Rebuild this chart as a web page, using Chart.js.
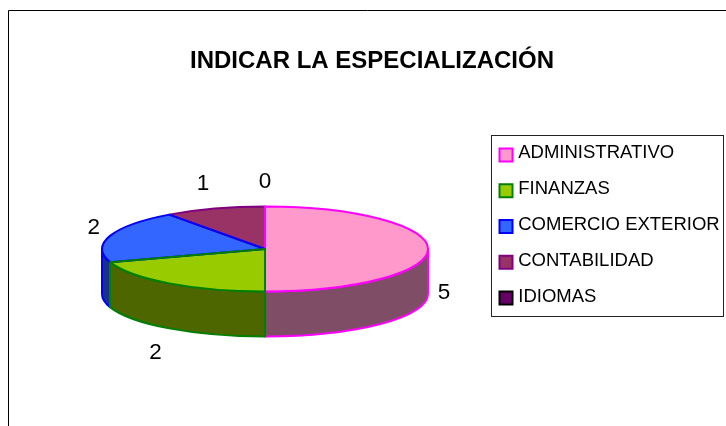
<!DOCTYPE html>
<html>
<head>
<meta charset="utf-8">
<style>
  html, body { margin: 0; padding: 0; background: #fff; }
  canvas { display: block; }
</style>
<script src="https://cdn.jsdelivr.net/npm/chart.js@4"></script>
</head>
<body>
<canvas id="chart" width="726" height="426"></canvas>
<script>
const titleText = "INDICAR LA ESPECIALIZACIÓN";
const categories = ["ADMINISTRATIVO", "FINANZAS", "COMERCIO EXTERIOR", "CONTABILIDAD", "IDIOMAS"];
const counts = [5, 2, 2, 1, 0];
const topColors = ["#ff99cc", "#99cc00", "#3366ff", "#993366", "#660066"];
const sideColors = ["#804d66", "#4d6600", "#1a3380", "#4d1a33", "#330033"];
const edgeColors = ["#ff00ff", "#008000", "#0000ff", "#800080", "#000000"];
// slices overlap at the edges in this order, the last one wins
const edgeOrder = [4, 3, 0, 2, 1];
// small per-label corrections, pixels
const labelNudgeX = [-2, -3, 1, -6, 0];
const labelNudgeY = [-1, 2, 1, 2, 3];

const pie = { x: 265, y: 249, rx: 163, ry: 42.5, depth: 45 };
const fontName = "'Liberation Sans', Arial, sans-serif";

function squash(ctx, arc) {
  ctx.translate(pie.x, pie.y);
  ctx.scale(pie.rx / arc.outerRadius, pie.ry / arc.outerRadius);
  ctx.translate(-arc.x, -arc.y);
}

// flat pie + side walls + outlines + value labels
const pie3d = {
  id: "pie3d",
  beforeDraw(chart) {
    const ctx = chart.ctx;
    ctx.save();
    ctx.strokeStyle = "#000";
    ctx.lineWidth = 1;
    ctx.beginPath();
    ctx.moveTo(8.5, 426);
    ctx.lineTo(8.5, 10.5);
    ctx.lineTo(726, 10.5);
    ctx.stroke();
    // legend frame
    ctx.strokeStyle = "#222";
    ctx.strokeRect(491.5, 135.5, 232, 181);
    ctx.restore();
  },
  beforeDatasetsDraw(chart) {
    const ctx = chart.ctx;
    const arcs = chart.getDatasetMeta(0).data;
    ctx.save();
    ctx.lineWidth = 2;
    ctx.lineJoin = "round";
    [3, 2, 0, 1].forEach(i => {
      const a = Math.max(arcs[i].startAngle, 0);
      const b = Math.min(arcs[i].endAngle, Math.PI);
      if (b <= a) return;
      ctx.beginPath();
      ctx.ellipse(pie.x, pie.y, pie.rx, pie.ry, 0, a, b);
      ctx.ellipse(pie.x, pie.y + pie.depth, pie.rx, pie.ry, 0, b, a, true);
      ctx.closePath();
      ctx.fillStyle = sideColors[i];
      ctx.fill();
      ctx.strokeStyle = edgeColors[i];
      ctx.stroke();
    });
    ctx.restore();
    ctx.save();
    squash(ctx, arcs[0]);
  },
  afterDatasetsDraw(chart) {
    const ctx = chart.ctx;
    const arcs = chart.getDatasetMeta(0).data;
    ctx.restore();
    ctx.save();
    ctx.lineWidth = 2;
    ctx.lineJoin = "round";
    edgeOrder.forEach(i => {
      if (counts[i] === 0) return;
      ctx.save();
      squash(ctx, arcs[i]);
      ctx.beginPath();
      ctx.moveTo(arcs[i].x, arcs[i].y);
      ctx.arc(arcs[i].x, arcs[i].y, arcs[i].outerRadius, arcs[i].startAngle, arcs[i].endAngle);
      ctx.closePath();
      ctx.restore();
      ctx.strokeStyle = edgeColors[i];
      ctx.stroke();
    });
    ctx.fillStyle = "#000";
    ctx.font = "22.5px " + fontName;
    ctx.textAlign = "center";
    ctx.textBaseline = "middle";
    counts.forEach((value, i) => {
      const mid = (arcs[i].startAngle + arcs[i].endAngle) / 2;
      const sin = Math.sin(mid);
      const dx = (pie.rx + 18) * Math.cos(mid);
      let dy = (pie.ry + 28) * sin;
      if (sin > -0.001) dy += pie.depth;
      ctx.fillText(String(value), pie.x + dx + labelNudgeX[i], pie.y + dy + labelNudgeY[i]);
    });
    ctx.restore();
  },
  afterLayout(chart) {
    // legend sits inside its own frame, not where the layout puts it
    const legend = chart.legend;
    legend.left = 481.5;
    legend.right = 726;
    legend.top = 126;
    legend.bottom = 426;
  },
  afterDraw(chart) {
    // legend markers: wider than the gap Chart.js leaves before the text
    const ctx = chart.ctx;
    ctx.save();
    ctx.lineWidth = 2;
    chart.legend.legendItems.forEach((item, i) => {
      const y = 148.5 + i * 35.75;
      ctx.fillStyle = topColors[item.index];
      ctx.strokeStyle = edgeColors[item.index];
      ctx.fillRect(499.5, y, 13, 13);
      ctx.strokeRect(499.5, y, 13, 13);
    });
    ctx.restore();
  },
};

new Chart(document.getElementById("chart").getContext("2d"), {
  type: "pie",
  data: {
    labels: categories,
    datasets: [
      {
        data: counts,
        backgroundColor: topColors,
        borderColor: edgeColors,
        borderWidth: 0,
      },
    ],
  },
  options: {
    responsive: false,
    animation: false,
    layout: { padding: { left: 18 } },
    plugins: {
      tooltip: { enabled: false },
      title: {
        display: true,
        text: titleText,
        color: "#000",
        font: { family: fontName, size: 24, weight: "bold" },
        padding: { top: 47, bottom: 20 },
      },
      legend: {
        position: "right",
        align: "start",
        labels: {
          color: "#000",
          font: { family: fontName, size: 18.5 },
          boxWidth: 10,
          boxHeight: 14,
          padding: 17.5,
          generateLabels(chart) {
            return Chart.overrides.doughnut.plugins.legend.labels
              .generateLabels(chart)
              .map(item => ({ ...item, lineWidth: 0, fillStyle: "transparent", strokeStyle: "transparent" }));
          },
        },
      },
    },
  },
  plugins: [pie3d],
});
</script>
</body>
</html>
